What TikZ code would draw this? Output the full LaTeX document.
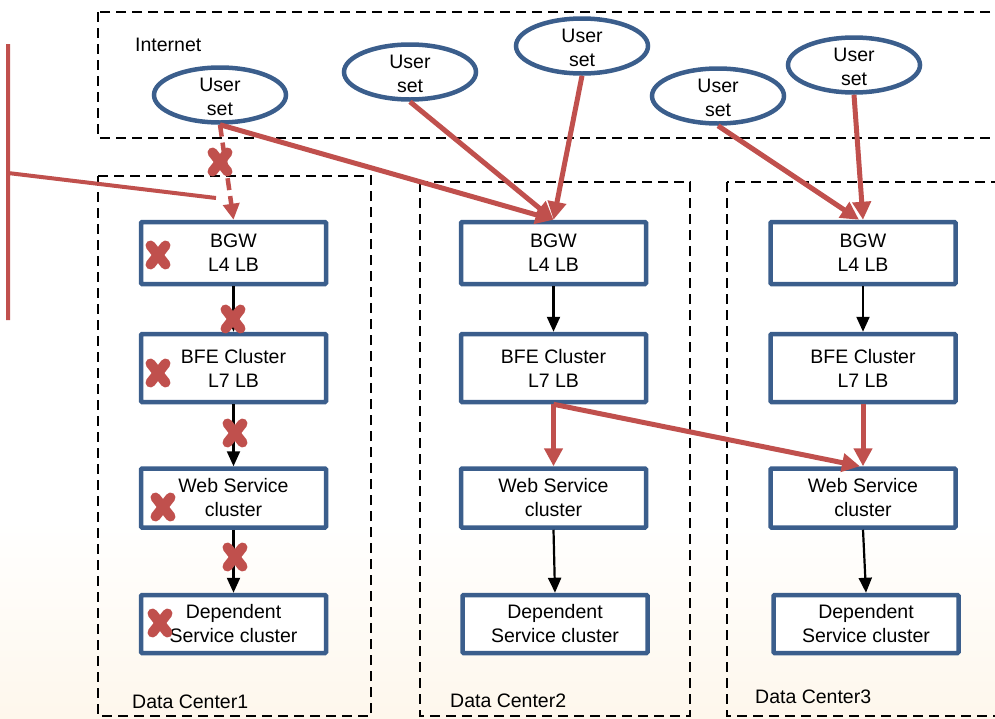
\documentclass[tikz,border=0pt]{standalone}
\usepackage{fontspec}
\setmainfont{Liberation Sans}
\usetikzlibrary{arrows.meta,shapes.geometric}
\definecolor{boxblue}{HTML}{3B5E8C}
\definecolor{xred}{HTML}{C0504D}
\definecolor{peach}{RGB}{254,247,236}
\begin{document}
\begin{tikzpicture}[x=1pt,y=-1pt,
  every node/.style={font=\fontsize{19.5}{24}\selectfont, align=center},
  usr/.style={ellipse, draw=boxblue, line width=4.5pt, minimum width=132pt, minimum height=55pt, inner sep=0pt},
  usrtext/.style={inner sep=0pt},
  svc/.style={rectangle, draw=boxblue, line width=4.5pt, fill=white, minimum width=185pt, inner sep=0pt, rounded corners=1pt},
  region/.style={draw=black, line width=2.5pt, dash pattern=on 10pt off 6pt},
  redarrow/.style={draw=xred, line width=5pt, -{Triangle[length=18pt,width=18pt]}},
  reddash/.style={draw=xred, line width=4.5pt, dash pattern=on 12pt off 6pt, -{Triangle[length=16pt,width=16pt]}},
  blackarrow/.style={draw=black, line width=2.2pt, -{Triangle[length=15pt,width=13pt]}},
  lbl/.style={anchor=base west, inner sep=0pt},
  bracket/.style={draw=xred, line width=4pt},
  xmark/.pic={\draw[xred, line width=10pt, line cap=round] (-7.5,-9.5) -- (7.5,9.5) (-7.5,9.5) -- (7.5,-9.5);}
]
\useasboundingbox (0,0) rectangle (995,718);
% faint background
\shade[top color=white, bottom color=peach] (0,520) rectangle (995,718);

% regions
\draw[region] (98,12) rectangle (1010,138);
\draw[region] (98,176) rectangle (371,716);
\draw[region] (420,182) rectangle (690,716);
\draw[region] (727,182) rectangle (1010,716);

\node[lbl] (inet) at (135,51) {Internet};
\node[lbl] (dc1l) at (132,708) {Data Center1};
\node[lbl] (dc2l) at (450,707) {Data Center2};
\node[lbl] (dc3l) at (755,703) {Data Center3};

% user sets
\node[usr] (u1) at (220,95) {};
\node[usr] (u2) at (410,72) {};
\node[usr] (u3) at (582,46) {};
\node[usr] (u4) at (718,96) {};
\node[usr] (u5) at (854,65) {};
\node[usrtext] (u1t) at ([yshift=-2]u1.center) {User\\set};
\node[usrtext] (u2t) at ([yshift=-2]u2.center) {User\\set};
\node[usrtext] (u3t) at ([yshift=-2]u3.center) {User\\set};
\node[usrtext] (u4t) at ([yshift=-2]u4.center) {User\\set};
\node[usrtext] (u5t) at ([yshift=-2]u5.center) {User\\set};

% data center 1
\node[svc, minimum height=62pt] (bgw1) at (233.5,253) {BGW\\L4 LB};
\node[svc, minimum height=68pt] (bfe1) at (233.5,368) {BFE Cluster\\L7 LB};
\node[svc, minimum height=59pt] (web1) at (233.5,498) {Web Service\\cluster};
\node[svc, minimum height=58pt] (dep1) at (233.5,624) {Dependent\\Service cluster};
% data center 2
\node[svc, minimum height=62pt] (bgw2) at (553.5,253) {BGW\\L4 LB};
\node[svc, minimum height=68pt] (bfe2) at (553.5,368) {BFE Cluster\\L7 LB};
\node[svc, minimum height=59pt] (web2) at (553.5,498) {Web Service\\cluster};
\node[svc, minimum height=58pt] (dep2) at (555,624) {Dependent\\Service cluster};
% data center 3
\node[svc, minimum height=62pt] (bgw3) at (863,253) {BGW\\L4 LB};
\node[svc, minimum height=68pt] (bfe3) at (863,368) {BFE Cluster\\L7 LB};
\node[svc, minimum height=59pt] (web3) at (863,498) {Web Service\\cluster};
\node[svc, minimum height=58pt] (dep3) at (866,624) {Dependent\\Service cluster};

% black arrows
\draw[blackarrow] (bgw1.south) -- (bfe1.north);
\draw[blackarrow] (bfe1.south) -- (web1.north);
\draw[blackarrow] (web1.south) -- (dep1.north);
\draw[blackarrow] (bgw2.south) -- (bfe2.north);
\draw[blackarrow] (web2.south) -- (dep2.north);
\draw[blackarrow] (bgw3.south) -- (bfe3.north);
\draw[blackarrow] (web3.south) -- (dep3.north);

% red arrows
\draw[redarrow] (u1.south) -- (bgw2.north);
\draw[redarrow] (u2.south) -- (bgw2.north);
\draw[redarrow] (u3.south) -- (bgw2.north);
\draw[redarrow] (u4.south) -- ([xshift=-4pt]bgw3.north);
\draw[redarrow] (u5.south) -- (bgw3.north);
\draw[redarrow] (bfe2.south) -- (web2.north);
\draw[redarrow] (bfe2.south) -- ([xshift=-3pt]web3.north);
\draw[redarrow] (bfe3.south) -- (web3.north);
\draw[reddash] (u1.south) -- (bgw1.north);

% bracket
\coordinate (bt) at (8,44);
\coordinate (bb) at (8,320);
\coordinate (bm) at (8,173);
\coordinate (be) at (216,198);
\draw[bracket] (bt) -- (bb) (bm) -- (be);

% failure marks
\pic at (220,162) {xmark};
\pic at (158,255) {xmark};
\pic at (233,319) {xmark};
\pic at (158,373) {xmark};
\pic at (235,433) {xmark};
\pic at (163,507) {xmark};
\pic at (235,557) {xmark};
\pic at (160,623) {xmark};
\end{tikzpicture}
\end{document}
